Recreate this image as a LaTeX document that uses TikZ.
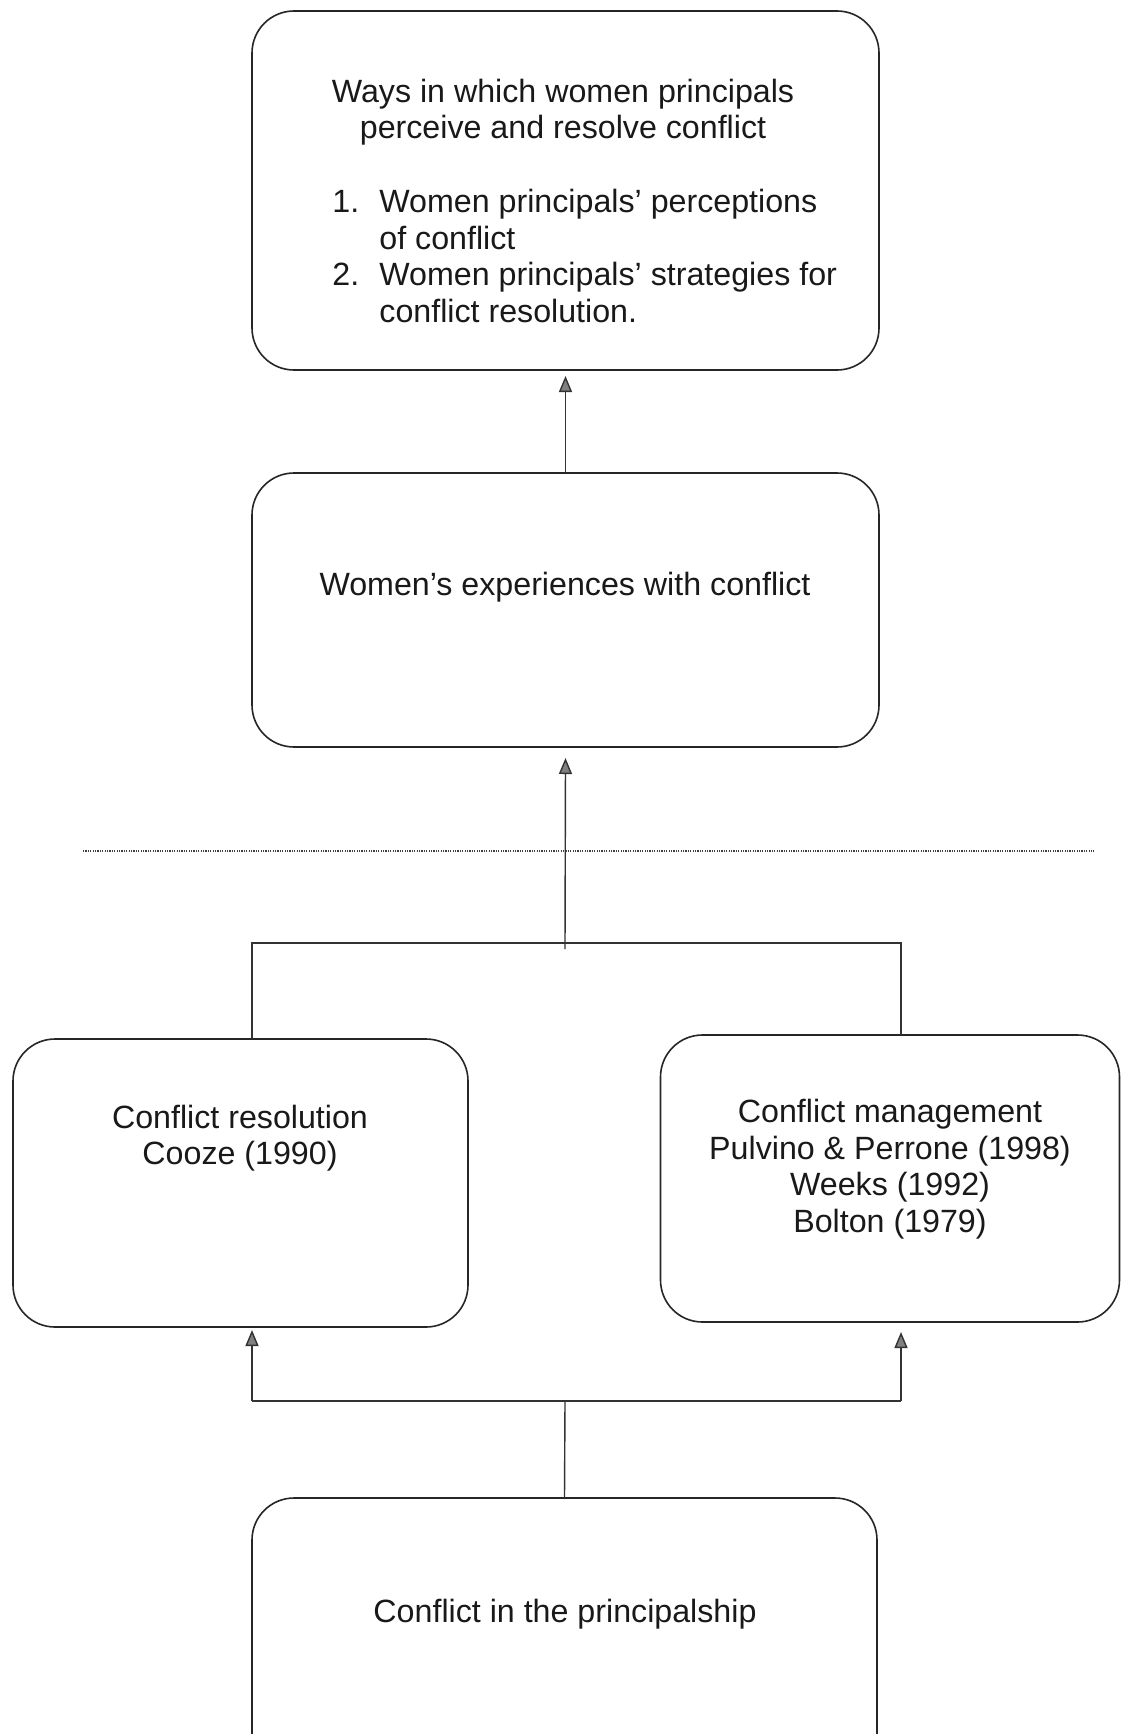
\documentclass[tikz,border=0pt]{standalone}
\usepackage{fontspec}
\setmainfont{Liberation Sans}
\usetikzlibrary{calc,arrows.meta}
\begin{document}
\begin{tikzpicture}[x=0.5pt,y=-0.5pt,
  box/.style={draw=black!85,line width=0.8pt,rounded corners=21pt,outer sep=0pt,inner sep=0pt},
  txt/.style={font=\fontsize{16.1}{18.3}\selectfont,align=center,inner sep=0pt,text=black!90},
  link/.style={draw=black!80,line width=0.7pt},
  arr/.style={link,-{Triangle[length=8pt,width=6.5pt,fill=black!50]}}]
\clip (0,0) rectangle (1121,1734);
\fill[white] (0,0) rectangle (1121,1734);
% boxes
\node[box,minimum width=313.5pt,minimum height=179.5pt] (top) at (565.5,190.5) {};
\node[box,minimum width=313.5pt,minimum height=137pt] (mid) at (565.5,610) {};
\node[box,minimum width=227.5pt,minimum height=144pt] (lbox) at (240.5,1183) {};
\node[box,minimum width=229.5pt,minimum height=143.5pt] (rbox) at (890,1178.5) {};
\node[box,minimum width=312.5pt,minimum height=150pt] (bot) at (564.5,1648) {};
% texts
\node[txt] (toptitle) at (563,112) {Ways in which women principals\\perceive and resolve conflict};
\node[txt,anchor=west,align=left] (toplist) at (332,260) {\begin{tabular}{@{}p{23.5pt}@{}l@{}}
1. & Women principals’ perceptions\\
   & of conflict\\
2. & Women principals’ strategies for\\
   & conflict resolution.
\end{tabular}};
\node[txt] (midtext) at (565,587) {Women’s experiences with conflict};
\node[txt] (ltext) at (240,1138) {Conflict resolution\\Cooze (1990)};
\node[txt] (rtext) at (890,1169) {Conflict management\\Pulvino \& Perrone (1998)\\Weeks (1992)\\Bolton (1979)};
\node[txt] (btext) at (565,1614) {Conflict in the principalship};
% dotted separator
\coordinate (dl) at (83,851);
\coordinate (dr) at (1094,851);
\draw[black!75,line width=0.7pt,dash pattern=on 0.6pt off 0.6pt] (dl) -- (dr);
% upper connectors
\draw[arr] (mid.north) -- ($(top.south)+(0,6)$);
\coordinate (j) at (565,943);
\coordinate (jl) at (252,943);
\coordinate (jr) at (901,943);
\draw[arr] ($(j)+(0,6)$) -- ($(mid.south)+(0,11)$);
\draw[link] (lbox.north -| jl) -- (jl) -- (jr) -- (rbox.north -| jr);
% lower connectors
\coordinate (k) at (565,1401);
\coordinate (kl) at (252,1401);
\coordinate (kr) at (901,1401);
\draw[link] (bot.north) -- (k);
\draw[link] (kl) -- (kr);
\draw[arr] (kl) -- ($(lbox.south -| kl)+(0,3)$);
\draw[arr] (kr) -- ($(rbox.south -| kr)+(0,10)$);
\end{tikzpicture}
\end{document}
